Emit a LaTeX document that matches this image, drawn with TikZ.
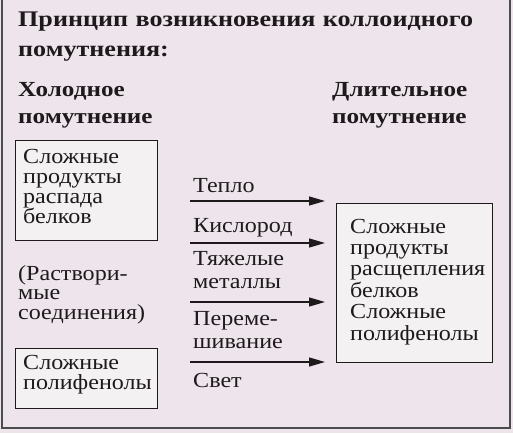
\documentclass[tikz,border=0pt]{standalone}
\usepackage{fontspec}
\setmainfont{Liberation Serif}
\newfontfamily\bodyfont[FakeStretch=1.12]{Liberation Serif}
\newfontfamily\headfont[FakeStretch=1.17]{Liberation Serif}
\usetikzlibrary{arrows.meta}
\definecolor{bg}{HTML}{EDE5EB}
\definecolor{boxfill}{HTML}{F4F1F3}
\definecolor{ink}{HTML}{1E1A1C}
\tikzset{
  body/.style={inner sep=0pt, anchor=base west, align=left, text width=160pt, text=ink,
    font=\bodyfont\fontsize{21.5}{20}\selectfont},
  head/.style={inner sep=0pt, anchor=base west, align=left, text width=480pt, text=ink,
    font=\headfont\bfseries\fontsize{21.5}{27}\selectfont},
  boxr/.style={draw=ink, fill=boxfill, line width=1.2pt, inner sep=0pt, anchor=north west},
  arr/.style={draw=ink, line width=1.3pt, -{Triangle[length=16pt,width=9pt]}},
  frame/.style={draw=gray!60!black, line width=1.5pt}
}
\begin{document}
\begin{tikzpicture}[x=1pt,y=1pt]
\fill[bg] (0,0) rectangle (513,-433);
\useasboundingbox (0,0) rectangle (513,-433);
\draw[frame] (2,0) -- (2,-428) -- (510,-428) -- (510,0);
% headings
\node[head, font=\headfont\bfseries\fontsize{22.3}{30}\selectfont] (title) at (18,-27) {Принцип возникновения коллоидного\\помутнения:};
\node[head, text width=160pt] (cold) at (18,-96) {Холодное\\помутнение};
\node[head, text width=170pt] (long) at (332,-96) {Длительное\\помутнение};
% left boxes
\node[boxr, minimum width=142pt, minimum height=100pt] (b1) at (15,-140) {};
\node[body] (b1t) at (23,-163) {Сложные\\продукты\\распада\\белков};
\node[body, font=\bodyfont\fontsize{21.5}{19.8}\selectfont] (sol) at (18,-280) {(Раствори-\\мые\\соединения)};
\node[boxr, minimum width=142pt, minimum height=60pt] (b2) at (15,-348) {};
\node[body] (b2t) at (23,-369) {Сложные\\полифенолы};
% right box
\node[boxr, minimum width=156pt, minimum height=159pt] (rb) at (336,-203) {};
\node[body, font=\bodyfont\fontsize{21.5}{21.4}\selectfont] (rbt) at (350,-233) {Сложные\\продукты\\расщепления\\белков\\Сложные\\полифенолы};
% factors
\node[body, text width=130pt] (f1) at (193,-192) {Тепло};
\node[body, text width=130pt] (f2) at (193,-232) {Кислород};
\node[body, text width=130pt, font=\bodyfont\fontsize{21.5}{23}\selectfont] (f3) at (193,-265) {Тяжелые\\металлы};
\node[body, text width=130pt, font=\bodyfont\fontsize{21.5}{23}\selectfont] (f4) at (193,-325) {Переме-\\шивание};
\node[body, text width=130pt] (f5) at (193,-387) {Свет};
% arrows
\coordinate (a1) at (190,-201);
\coordinate (a2) at (190,-243);
\coordinate (a3) at (190,-302);
\coordinate (a4) at (190,-362);
\foreach \a in {a1,a2,a3,a4} \draw[arr, shorten >=11pt] (\a) -- (\a -| rb.west);
\end{tikzpicture}
\end{document}
